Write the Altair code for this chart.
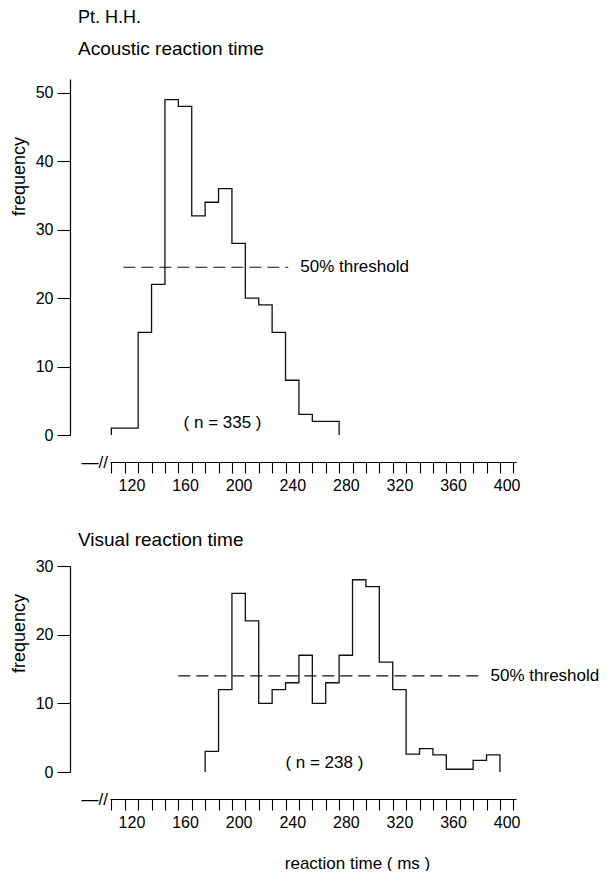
import altair as alt
import pandas as pd

FONT = "Liberation Sans, Arial, sans-serif"
BIN = 10  # ms per histogram bin

# ---- data ----
ac_centers = [110, 120, 130, 140, 150, 160, 170, 180, 190, 200, 210, 220, 230, 240, 250, 260, 270]
ac_counts = [1, 1, 15, 22, 49, 48, 32, 34, 36, 28, 20, 19, 15, 8, 3, 2, 2]

vi_centers = [180, 190, 200, 210, 220, 230, 240, 250, 260, 270, 280, 290, 300, 310, 320,
              330, 340, 350, 360, 370, 380, 390]
vi_counts = [3, 12, 26, 22, 10, 12, 13, 17, 10, 13, 17, 28, 27, 16, 12,
             2.6, 3.4, 2.5, 0.4, 0.4, 1.7, 2.5]

ac_threshold = 24.5
ac_thr_span = [114, 237]
vi_threshold = 14
vi_thr_span = [155, 381]

x_tick_marks = list(range(105, 406, 10))
x_tick_labels = [120, 160, 200, 240, 280, 320, 360, 400]
ac_y_ticks = [0, 10, 20, 30, 40, 50]
vi_y_ticks = [0, 10, 20, 30]

X_DOM = [104, 407]
W = 406


def outline(centers, counts):
    rows = [{"i": 0, "t": centers[0] - BIN / 2, "f": 0}]
    for k, (c, v) in enumerate(zip(centers, counts)):
        rows.append({"i": k + 1, "t": c + BIN / 2, "f": v})
    rows.append({"i": len(centers) + 1, "t": centers[-1] + BIN / 2, "f": 0})
    return pd.DataFrame(rows)


def panel(centers, counts, ymax, yticks, h, thr, span, thr_lab_x, ntext, nx, ny,
          title, ytitle_y, xtitle=None):
    xs = alt.Scale(domain=X_DOM, nice=False, zero=False)
    ys = alt.Scale(domain=[0, ymax], nice=False, zero=True)
    xvals = sorted(set(x_tick_marks + x_tick_labels))
    xaxis_kw = dict(
        values=xvals,
        tickCount=len(xvals) + 10,
        tickSize=11,
        tickWidth=1.1,
        tickColor="black",
        tickOpacity={"condition": {"test": f"indexof({x_tick_marks}, datum.value) >= 0", "value": 1}, "value": 0},
        labelExpr=f"indexof({x_tick_labels}, datum.value) >= 0 ? datum.label : ''",
        labelOverlap=False,
        labelFlush=False,
        labelPadding=4,
        labelFontSize=16,
        labelFont=FONT,
        labelColor="black",
        domainColor="black",
        domainWidth=1.2,
        grid=False,
        offset=27,
    )
    if xtitle:
        xaxis_kw.update(title=xtitle, titleFont=FONT, titleFontSize=17, titleFontWeight="normal",
                        titleColor="black", titleX=247, titleY=64, titleAlign="center",
                        titleBaseline="middle")
    else:
        xaxis_kw.update(title=None)
    xaxis = alt.Axis(**xaxis_kw)
    yaxis = alt.Axis(
        values=yticks, tickCount=len(yticks) + 5, tickSize=13, tickWidth=1.1, tickColor="black",
        labelPadding=4, labelFontSize=16, labelFont=FONT, labelColor="black",
        domainColor="black", domainWidth=1.2, grid=False, offset=40,
        title="frequency", titleFont=FONT, titleFontSize=18, titleFontWeight="normal",
        titleColor="black", titleAngle=-90, titleX=-51, titleY=ytitle_y,
        titleAlign="center", titleBaseline="middle",
    )

    hist = alt.Chart(outline(centers, counts)).mark_line(
        interpolate="step-before", color="#111", strokeWidth=1.3
    ).encode(
        x=alt.X("t:Q", scale=xs, axis=xaxis),
        y=alt.Y("f:Q", scale=ys, axis=yaxis),
        order="i:Q",
    )
    thr_df = pd.DataFrame({"x": [span[0]], "x2": [span[1]], "y": [thr]})
    rule = alt.Chart(thr_df).mark_rule(strokeDash=[12, 6], color="#111", strokeWidth=1.2).encode(
        x=alt.X("x:Q", scale=xs), x2="x2:Q", y=alt.Y("y:Q", scale=ys)
    )
    lab_df = pd.DataFrame({"x": [thr_lab_x], "y": [thr], "text": ["50% threshold"]})
    lab = alt.Chart(lab_df).mark_text(
        align="left", baseline="middle", fontSize=17, font=FONT, color="black"
    ).encode(x=alt.X("x:Q", scale=xs), y=alt.Y("y:Q", scale=ys), text="text:N")
    n_df = pd.DataFrame({"x": [nx], "y": [ny], "text": [ntext]})
    ntxt = alt.Chart(n_df).mark_text(
        align="center", baseline="middle", fontSize=17, font=FONT, color="black"
    ).encode(x=alt.X("x:Q", scale=xs), y=alt.Y("y:Q", scale=ys), text="text:N")
    brk_df = pd.DataFrame({"x": [102.5], "text": ["\u2014//"]})
    brk = alt.Chart(brk_df).mark_text(
        align="right", baseline="middle", fontSize=17, font=FONT, color="black", dy=1
    ).encode(x=alt.X("x:Q", scale=xs), y=alt.value(h + 27), text="text:N")

    return alt.layer(hist, rule, lab, ntxt, brk).properties(width=W, height=h, title=title)


top_title = alt.TitleParams(
    text="Pt. H.H.", subtitle="Acoustic reaction time", anchor="start", frame="group",
    dx=-32, fontSize=18, subtitleFontSize=19, font=FONT, subtitleFont=FONT,
    fontWeight="normal", color="black", subtitleColor="black", subtitlePadding=13, offset=20,
)
bot_title = alt.TitleParams(
    text="Visual reaction time", anchor="start", frame="group", dx=-32, fontSize=19,
    font=FONT, fontWeight="normal", color="black", offset=8,
)

top = panel(ac_centers, ac_counts, 52, ac_y_ticks, 356, ac_threshold, ac_thr_span, 246,
            "( n = 335 )", 188, 1.8, top_title, 97)
bottom = panel(vi_centers, vi_counts, 30, vi_y_ticks, 206, vi_threshold, vi_thr_span, 388,
               "( n = 238 )", 264, 1.3, bot_title, 67, xtitle="reaction time ( ms )")

chart = alt.vconcat(top, bottom, spacing=38).properties(
    padding={"left": 2, "top": 1, "right": 0, "bottom": 0},
    background="white",
).configure_view(stroke=None)

chart.save("out.html", embed_options={"renderer": "svg", "actions": False})
